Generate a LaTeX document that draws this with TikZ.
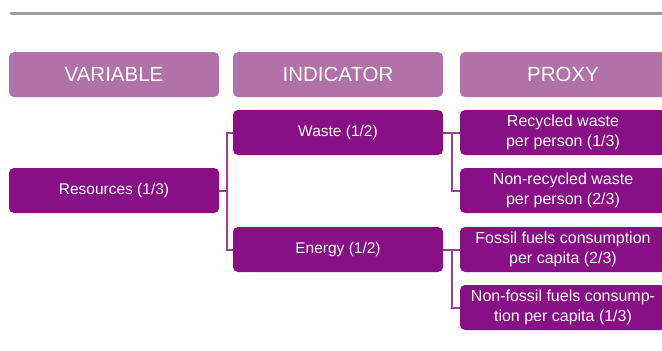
\documentclass[tikz,border=0pt]{standalone}
\usepackage{fontspec}
\setmainfont{Liberation Sans}
\definecolor{headfill}{HTML}{B072A8}
\definecolor{boxfill}{HTML}{890F86}
\definecolor{linkcol}{HTML}{9E3E99}
\definecolor{rulegray}{HTML}{9E9E9E}
\begin{document}
\begin{tikzpicture}[x=1pt,y=-1pt,
  headbox/.style={fill=headfill, rounded corners=5pt, minimum width=210pt,
    minimum height=45pt, inner sep=0pt, text=white,
    font=\fontsize{20.5}{24}\selectfont},
  itembox/.style={fill=boxfill, rounded corners=5pt, minimum width=210pt,
    minimum height=45pt, inner sep=0pt, text=white, align=center,
    font=\fontsize{15.5}{19.3}\selectfont},
  proxybox/.style={itembox, minimum width=206pt,
    font=\fontsize{16}{19.3}\selectfont},
  link/.style={draw=linkcol, line width=2pt}]
\useasboundingbox (0,0) rectangle (662,351);
% top rule
\draw[rulegray, line width=3pt, line cap=round] (11,13.5) -- (670,13.5);
% column headers
\node[headbox] (hvar) at (114,74.5) {VARIABLE};
\node[headbox] (hind) at (338,74.5) {INDICATOR};
\node[headbox, minimum width=206pt] (hprx) at (563,74.5) {PROXY};
% variable
\node[itembox] (res) at (114,190.5) {Resources (1/3)};
% indicators
\node[itembox] (waste) at (338,132.5) {Waste (1/2)};
\node[itembox] (energy) at (338,249.5) {Energy (1/2)};
% proxies
\node[proxybox] (rec) at (563,132.5) {Recycled waste\\per person (1/3)};
\node[proxybox] (nonrec) at (563,190.5) {Non-recycled waste\\per person (2/3)};
\node[proxybox] (fossil) at (563,249.5) {Fossil fuels consumption\\per capita (2/3)};
\node[proxybox] (nonfossil) at (563,307.5) {Non-fossil fuels consump-\\tion per capita (1/3)};
% connectors
\draw[link] (res.east) -- ++(8,0);
\draw[link] (waste.west) -- ++(-6,0) |- (energy.west);
\draw[link] (waste.east) -- (rec.west);
\draw[link] (waste.east) -- ++(9,0) |- (nonrec.west);
\draw[link] (energy.east) -- (fossil.west);
\draw[link] (energy.east) -- ++(9,0) |- (nonfossil.west);
\end{tikzpicture}
\end{document}
